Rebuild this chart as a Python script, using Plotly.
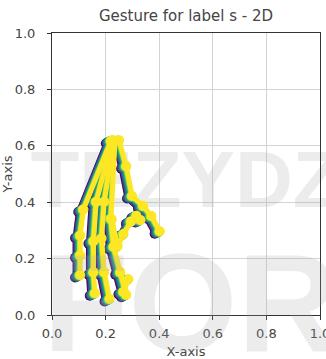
import plotly.graph_objects as go

# Hand-stroke polylines for the gesture (normalised 0..1 coordinates)
stroke_left = [(0.100, 0.140), (0.100, 0.210), (0.100, 0.280), (0.112, 0.372), (0.215, 0.615)]
stroke_mid1 = [(0.155, 0.075), (0.150, 0.150), (0.150, 0.260), (0.160, 0.400), (0.220, 0.615)]
stroke_mid2 = [(0.210, 0.055), (0.190, 0.150), (0.180, 0.270), (0.190, 0.400), (0.225, 0.615)]
stroke_mid3 = [(0.272, 0.070), (0.250, 0.150), (0.225, 0.240), (0.215, 0.340), (0.230, 0.615)]
stroke_tail = [(0.280, 0.125), (0.262, 0.080)]
stroke_right = [(0.222, 0.618), (0.245, 0.618), (0.272, 0.526), (0.294, 0.420),
                (0.335, 0.385), (0.366, 0.349), (0.397, 0.295)]
stroke_hook = [(0.218, 0.337), (0.240, 0.242), (0.262, 0.285), (0.290, 0.330),
               (0.310, 0.350), (0.325, 0.335)]
strokes = [stroke_left, stroke_mid1, stroke_mid2, stroke_mid3, stroke_tail, stroke_right, stroke_hook]

# Per-frame drift of the tracked points and the viridis colour of each frame
frame_dx = [-0.014, -0.011, -0.008, -0.005, -0.002, 0.001, 0.003, 0.005]
frame_dy = [-0.007, -0.005, -0.004, -0.002, -0.001, 0.000, 0.001, 0.002]
frame_colors = ["#440154", "#46327e", "#365c8d", "#277f8e", "#1fa187",
                "#4ac16d", "#a0da39", "#fde725"]

WM_COLOR = "rgba(170,170,170,0.22)"
TEXT_COLOR = "#444444"

fig = go.Figure()

# Faint background watermark word behind the strokes
fig.add_trace(go.Scatter(
    x=[0.50], y=[0.455], mode="text", text=["TEZYDZ"],
    textfont=dict(family="Liberation Sans", size=80, color=WM_COLOR, weight="bold"),
    textposition="middle center", cliponaxis=False, hoverinfo="skip", showlegend=False))

for dx, dy, col in zip(frame_dx, frame_dy, frame_colors):
    xs, ys = [], []
    for s in strokes:
        xs += [p[0] + dx for p in s] + [None]
        ys += [p[1] + dy for p in s] + [None]
    fig.add_trace(go.Scatter(
        x=xs, y=ys, mode="lines+markers",
        line=dict(color=col, width=5),
        marker=dict(color=col, size=10),
        showlegend=False, hoverinfo="skip"))

axis_common = dict(
    range=[0, 1], dtick=0.2, tickformat=".1f",
    showgrid=True, gridcolor="#d3d3d3", gridwidth=1,
    showline=True, linecolor="#333333", linewidth=1, mirror=True,
    ticks="outside", ticklen=4, tickcolor="#333333",
    tickfont=dict(family="DejaVu Sans", size=13, color=TEXT_COLOR),
    ticklabeloverflow="allow", automargin=False,
    zeroline=False,
)

fig.update_layout(
    width=326, height=359,
    margin=dict(l=52, r=6, t=33, b=44),
    paper_bgcolor="white", plot_bgcolor="white",
    title=dict(text="Gesture for label s - 2D", xref="paper", x=0.5, xanchor="center",
               yref="container", y=0.955, yanchor="middle",
               font=dict(family="DejaVu Sans", size=15, color=TEXT_COLOR)),
    xaxis=dict(axis_common, ticklabelstandoff=2,
               title=dict(text="X-axis", standoff=7,
                          font=dict(family="DejaVu Sans", size=13, color=TEXT_COLOR))),
    yaxis=dict(axis_common, ticklabelstandoff=9,
               title=dict(text="Y-axis", standoff=15,
                          font=dict(family="DejaVu Sans", size=13, color=TEXT_COLOR))),
    annotations=[dict(text="<b>FOR</b>", xref="paper", yref="paper", x=-0.04, y=0.33,
                      xanchor="left", yanchor="top", showarrow=False,
                      font=dict(family="Liberation Sans", size=140, color=WM_COLOR))],
)

fig.write_html("out.html")
